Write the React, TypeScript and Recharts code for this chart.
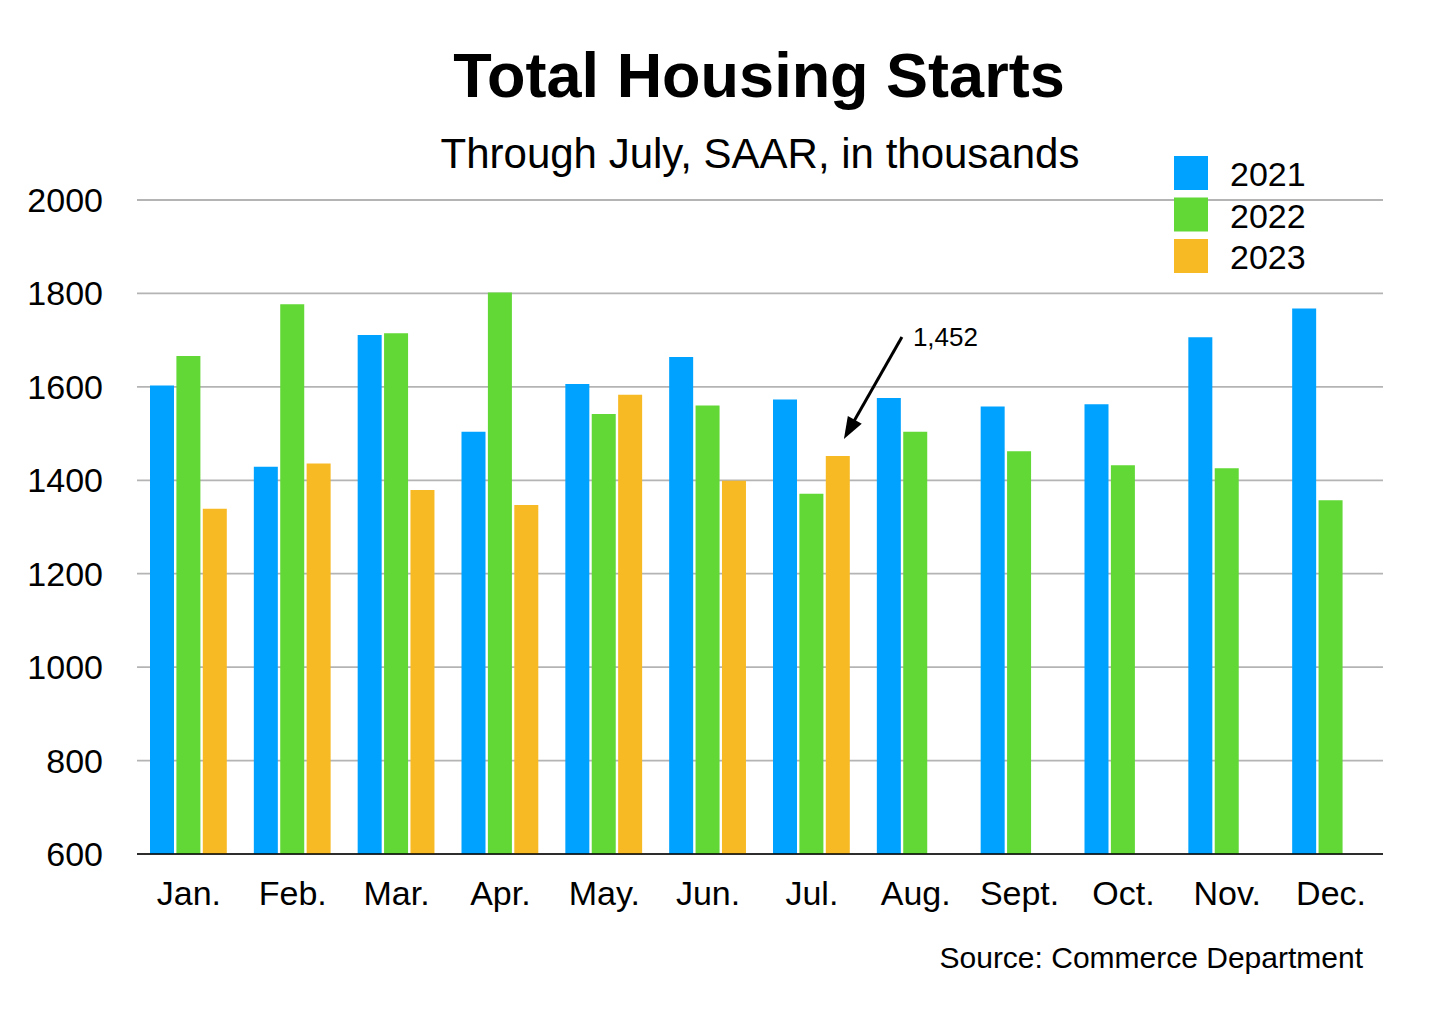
import { Bar, BarChart, CartesianGrid, ReferenceDot, XAxis, YAxis } from "recharts"

// Housing starts, SAAR, thousands
const months = ["Jan.", "Feb.", "Mar.", "Apr.", "May.", "Jun.", "Jul.", "Aug.", "Sept.", "Oct.", "Nov.", "Dec."]
const starts2021 = [1603, 1429, 1711, 1504, 1606, 1664, 1573, 1576, 1558, 1563, 1706, 1768]
const starts2022 = [1666, 1777, 1715, 1802, 1542, 1560, 1371, 1504, 1462, 1432, 1426, 1357]
const starts2023: (number | null)[] = [1339, 1436, 1379, 1347, 1583, 1399, 1452, null, null, null, null, null]
const yTicks = [600, 800, 1000, 1200, 1400, 1600, 1800, 2000]

const seriesNames = ["2021", "2022", "2023"]
const seriesColors = ["#00A2FF", "#61D836", "#F8BA24"]

const calloutMonth = "Jul."
const calloutValue = starts2023[months.indexOf(calloutMonth)] as number

const chartData = months.map((m, i) => ({
  month: m,
  "2021": starts2021[i],
  "2022": starts2022[i],
  "2023": starts2023[i],
}))

const font = "'Liberation Sans', Arial, Helvetica, sans-serif"

function Callout(props: any) {
  const { cx, cy } = props
  const tipX = cx + 32
  const tipY = cy - 17
  const tailX = cx + 90
  const tailY = cy - 119
  const dx = tipX - tailX
  const dy = tipY - tailY
  const len = Math.sqrt(dx * dx + dy * dy)
  const ux = dx / len
  const uy = dy / len
  const headLen = 22
  const headHalf = 8
  const bx = tipX - ux * headLen
  const by = tipY - uy * headLen
  const p1 = `${bx - uy * headHalf},${by + ux * headHalf}`
  const p2 = `${bx + uy * headHalf},${by - ux * headHalf}`
  return (
    <g>
      <line x1={tailX} y1={tailY} x2={bx + ux * 2} y2={by + uy * 2} stroke="#000" strokeWidth={3} />
      <polygon points={`${tipX},${tipY} ${p1} ${p2}`} fill="#000" />
      <text x={cx + 101} y={cy - 110} fontSize={26} fontFamily={font} fill="#000">
        {calloutValue.toLocaleString("en-US")}
      </text>
    </g>
  )
}

export default function App() {
  return (
    <div style={{ position: "absolute", left: 0, top: 0, width: 1440, height: 1029, background: "#fff" }}>
      <BarChart
        width={1440}
        height={1029}
        data={chartData}
        margin={{ top: 200, right: 57, bottom: 115, left: 0 }}
        barCategoryGap={13}
        barGap={2.4}
      >
        <CartesianGrid vertical={false} stroke="#b4b4b4" strokeWidth={1.8} />
        <XAxis
          dataKey="month"
          height={60}
          interval={0}
          tickLine={false}
          tickSize={0}
          tickMargin={27}
          axisLine={{ stroke: "#000", strokeWidth: 1.5 }}
          tick={{ fill: "#000", fontSize: 34, fontFamily: font }}
        />
        <YAxis
          domain={[600, 2000]}
          ticks={yTicks}
          width={137}
          axisLine={false}
          tickLine={false}
          tickSize={0}
          tickMargin={34}
          tick={{ fill: "#000", fontSize: 34, fontFamily: font }}
        />
        {seriesNames.map((name, i) => (
          <Bar key={name} dataKey={name} fill={seriesColors[i]} isAnimationActive={false} />
        ))}
        <ReferenceDot x={calloutMonth} y={calloutValue} r={0} shape={Callout} />
      </BarChart>
      <svg
        width={1440}
        height={1029}
        style={{ position: "absolute", left: 0, top: 0, pointerEvents: "none" }}
        fontFamily={font}
      >
        <text x={759} y={97} textAnchor="middle" fontSize={63} fontWeight="bold" fill="#000">
          Total Housing Starts
        </text>
        <text x={760} y={168} textAnchor="middle" fontSize={42} fill="#000">
          Through July, SAAR, in thousands
        </text>
        {seriesNames.map((name, i) => (
          <g key={name}>
            <rect x={1174} y={156 + i * 41.5} width={34} height={34} fill={seriesColors[i]} />
            <text x={1230} y={186 + i * 41.5} fontSize={34} fill="#000">
              {name}
            </text>
          </g>
        ))}
        <text x={1363} y={968} textAnchor="end" fontSize={30} fill="#000">
          Source: Commerce Department
        </text>
      </svg>
    </div>
  )
}
